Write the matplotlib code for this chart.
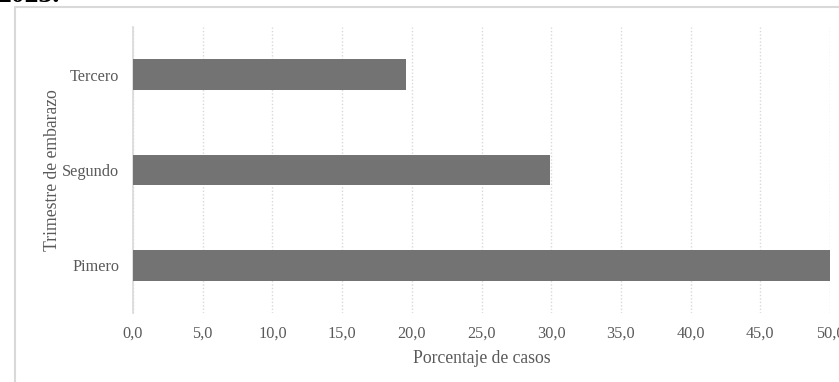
import matplotlib
matplotlib.use('Agg')
import matplotlib.pyplot as plt
from matplotlib.patches import Rectangle
from matplotlib.ticker import FuncFormatter, MultipleLocator

# data
categorias = ["Pimero", "Segundo", "Tercero"]
porcentajes = [50.5, 29.9, 19.6]

W, H = 839, 382
fig = plt.figure(figsize=(W / 100, H / 100), dpi=100, facecolor='white')
plt.rcParams['font.family'] = ['Liberation Serif', 'DejaVu Serif']

# outer chart frame (cut off at right and bottom in the reference)
fig.patches.append(Rectangle((15 / W, -0.1), 1.2, (H - 7) / H + 0.1,
                             transform=fig.transFigure, fill=False,
                             edgecolor='#d9d9d9', linewidth=1.5))

# partially visible title above the chart
fig.text(-2 / W, 1 - 2 / H, "2023.", fontsize=20, fontweight='bold',
         color='black', va='baseline', ha='left')

ax = fig.add_axes([133 / W, (H - 313) / H, (830 - 133) / W, (313 - 27) / H])
ax.barh(range(len(categorias)), porcentajes, height=0.32, color='#737373',
        edgecolor='none', zorder=3)

ax.set_xlim(0, 50)
ax.set_ylim(-0.5, len(categorias) - 0.5)
ax.xaxis.set_major_locator(MultipleLocator(5))
ax.xaxis.set_major_formatter(FuncFormatter(lambda v, p: f"{v:.1f}".replace('.', ',')))
ax.set_yticks(range(len(categorias)))
ax.set_yticklabels(categorias)

ax.grid(axis='x', color='#d9d9d9', linestyle=(0, (1, 1.5)), linewidth=1, zorder=0)
for s in ['top', 'right', 'bottom']:
    ax.spines[s].set_visible(False)
ax.spines['left'].set_color('#d9d9d9')
ax.spines['left'].set_linewidth(1.2)
ax.tick_params(axis='both', length=0, labelsize=11.7, labelcolor='#595959')
ax.tick_params(axis='x', pad=9)
ax.tick_params(axis='y', pad=10)

ax.set_xlabel("Porcentaje de casos", fontsize=12.7, color='#595959', labelpad=6)
ax.set_ylabel("Trimestre de embarazo", fontsize=12.7, color='#595959', labelpad=1)

fig.savefig("out.png", dpi=100, facecolor='white')
